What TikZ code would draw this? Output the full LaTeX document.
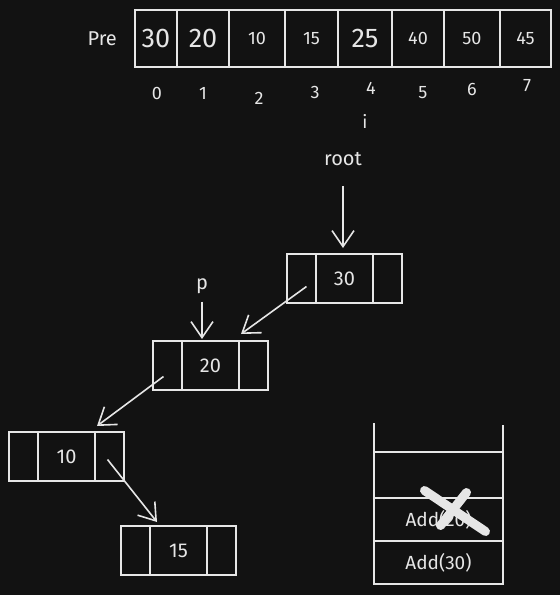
\documentclass[tikz,border=0pt]{standalone}
\usepackage{fontspec}
\setmainfont{Fira Sans}
\usetikzlibrary{arrows.meta, positioning, calc}
\definecolor{bg}{HTML}{121212}
\definecolor{ink}{HTML}{E6E6E6}

\begin{document}
\begin{tikzpicture}[
        x=1pt, y=-1pt,
        every node/.style={text=ink},
        cell/.style={
            draw=ink,
            line width=1.6pt,
            inner sep=0pt,
            outer sep=0pt,
            minimum height=57pt
        },
        bignum/.style={font=\fontsize{27}{27}\selectfont},
        smallnum/.style={font=\fontsize{18}{18}\selectfont},
        idx/.style={font=\fontsize{18}{18}\selectfont},
        tag/.style={font=\fontsize{20}{20}\selectfont, inner sep=2pt},
        slot/.style={
            draw=ink,
            line width=1.6pt,
            inner sep=0pt,
            outer sep=0pt,
            minimum height=49pt
        },
        ptrcell/.style={slot, minimum width=29pt},
        keycell/.style={slot, minimum width=57pt, font=\fontsize{20}{20}\selectfont},
        stackslot/.style={
            draw=ink,
            line width=1.6pt,
            inner sep=0pt,
            outer sep=0pt,
            minimum width=129pt,
            font=\fontsize{19}{19}\selectfont
        },
        arrow/.style={-{Straight Barb[length=16pt, width=22pt]}, draw=ink, line width=1.6pt},
        cross/.style={draw=ink, line width=9pt, line cap=round}
    ]

        % Fond sombre
        \fill[bg] (0,0) rectangle (560,595);
        \useasboundingbox (0,0) rectangle (560,595);

        % Tableau Pre
        \node[cell, bignum, minimum width=42pt, anchor=north west]
            (c0) at (135,10) {30};
        \node[cell, bignum, minimum width=52pt, right=0pt of c0] (c1) {20};
        \node[cell, smallnum, minimum width=56pt, right=0pt of c1] (c2) {10};
        \node[cell, smallnum, minimum width=53pt, right=0pt of c2] (c3) {15};
        \node[cell, bignum, minimum width=54pt, right=0pt of c3] (c4) {25};
        \node[cell, smallnum, minimum width=52pt, right=0pt of c4] (c5) {40};
        \node[cell, smallnum, minimum width=56pt, right=0pt of c5] (c6) {50};
        \node[cell, smallnum, minimum width=51pt, right=0pt of c6] (c7) {45};

        \node[tag, left=16pt of c0] (pre) {Pre};

        % Indices
        \node[idx] (i0) at (157,93) {0};
        \node[idx] (i1) at (203,93) {1};
        \node[idx] (i2) at (259,98) {2};
        \node[idx] (i3) at (315,92) {3};
        \node[idx] (i4) at (371,88) {4};
        \node[idx] (i5) at (423,93) {5};
        \node[idx] (i6) at (472,89) {6};
        \node[idx] (i7) at (527,86) {7};
        \node[idx] (ivar) at (365,121) {i};

        % Noeud 30
        \node[ptrcell, anchor=north west] (n30l) at (287,254) {};
        \node[keycell, right=0pt of n30l] (n30m) {30};
        \node[ptrcell, right=0pt of n30m] (n30r) {};

        % Noeud 20
        \node[ptrcell, anchor=north west] (n20l) at (153,341) {};
        \node[keycell, right=0pt of n20l] (n20m) {20};
        \node[ptrcell, right=0pt of n20m] (n20r) {};

        % Noeud 10
        \node[ptrcell, anchor=north west] (n10l) at (9,432) {};
        \node[keycell, right=0pt of n10l] (n10m) {10};
        \node[ptrcell, right=0pt of n10m] (n10r) {};

        % Noeud 15
        \node[ptrcell, anchor=north west] (n15l) at (121,526) {};
        \node[keycell, right=0pt of n15l] (n15m) {15};
        \node[ptrcell, right=0pt of n15m] (n15r) {};

        % Pointeurs
        \node[tag] (root) at (343,159) {root};
        \node[tag] (p) at (202,286) {p};

        \draw[arrow, shorten <=18pt, shorten >=6pt] (root.south) -- (root.south |- n30m.north);
        \draw[arrow, shorten <=6pt, shorten >=2pt] (p.south) -- (p.south |- n20m.north);

        % Liens entre noeuds
        \draw[arrow] ($(n30l.center)+(5,8)$) -- ($(n20r.north west)+(2,-7)$);
        \draw[arrow] ($(n20l.center)+(-4,11)$) -- ($(n10r.north west)+(2,-6)$);
        \draw[arrow] ($(n10r.center)+(-2,3)$) -- ($(n15m.north west)+(7,-4)$);

        % Pile
        \node[stackslot, minimum height=46pt, anchor=north west] (s1) at (374,452) {};
        \node[stackslot, minimum height=43pt, below=0pt of s1] (s2) {Add(20)};
        \node[stackslot, minimum height=43pt, below=0pt of s2] (s3) {Add(30)};

        \draw[ink, line width=1.6pt] (s1.north west) -- ++(0,-29);
        \draw[ink, line width=1.6pt] (s1.north east) -- ++(0,-27);

        % Élément retiré
        \draw[cross] ($(s2.center)+(-14,-29)$) -- ($(s2.center)+(47,12)$);
        \draw[cross] ($(s2.center)+(28,-27)$) -- ($(s2.center)+(2,6)$);

    \end{tikzpicture}
\end{document}
